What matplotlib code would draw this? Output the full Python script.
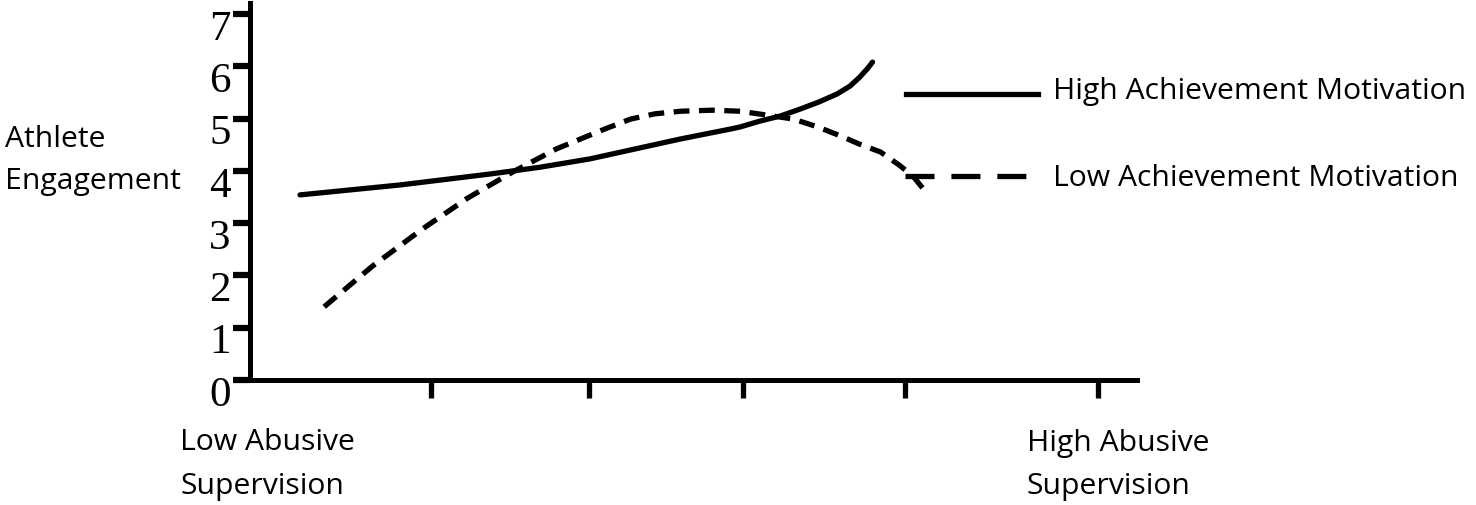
import numpy as np
import matplotlib
matplotlib.use('Agg')
import matplotlib.pyplot as plt
import matplotlib.transforms as mtrans
from matplotlib.lines import Line2D

# values (x: abusive supervision, y: engagement)
high_x = [0.31, 0.93, 1.49, 1.80, 2.11, 2.39, 2.67, 2.98, 3.04, 3.16, 3.29, 3.41, 3.53,
          3.64, 3.72, 3.78, 3.83, 3.86]
high_y = [3.54, 3.73, 3.94, 4.07, 4.23, 4.42, 4.61, 4.80, 4.84, 4.95, 5.05, 5.18, 5.32,
          5.47, 5.62, 5.79, 5.96, 6.08]

low_x = [0.46, 0.76, 1.07, 1.35, 1.63, 1.90, 2.05, 2.20, 2.36, 2.51, 2.67, 2.87, 3.04,
         3.24, 3.37, 3.52, 3.66, 3.78, 3.91, 4.03, 4.11, 4.20]
low_y = [1.40, 2.18, 2.89, 3.48, 3.98, 4.42, 4.61, 4.80, 4.99, 5.09, 5.14, 5.16, 5.14,
         5.05, 4.99, 4.84, 4.67, 4.51, 4.36, 4.10, 3.90, 3.56]

x_ticks = [1.12, 2.10, 3.06, 4.06, 5.26]
y_ticks = [0, 1, 2, 3, 4, 5, 6, 7]

W, H = 1476, 506
fig = plt.figure(figsize=(W / 100, H / 100), dpi=100)
ax = fig.add_axes([250 / W, (H - 381) / H, (1137 - 250) / W, (381 - 4) / H])

ax.plot(high_x, high_y, color='black', lw=3.8, solid_capstyle='round', solid_joinstyle='round')
ax.plot(low_x, low_y, color='black', lw=3.8, dashes=(3.0, 1.8), dash_capstyle='butt',
        dash_joinstyle='round')

ax.set_xlim(0, 5.5)
ax.set_ylim(0, 7.21)

for s in ['top', 'right']:
    ax.spines[s].set_visible(False)
for s in ['left', 'bottom']:
    ax.spines[s].set_linewidth(3.6)

ax.set_xticks(x_ticks)
ax.set_xticklabels([])
ax.tick_params(axis='x', direction='out', length=13, width=3.8)

ax.set_yticks(y_ticks)
ax.set_yticklabels([str(v) for v in y_ticks], fontfamily='Liberation Serif', fontsize=31)
ax.tick_params(axis='y', direction='out', length=12, width=4.5, pad=2)
shift = mtrans.ScaledTranslation(0, -10 / 100, fig.dpi_scale_trans)
for lab in ax.get_yticklabels():
    lab.set_transform(lab.get_transform() + shift)

font = 'Open Sans'
fs = 21.7
fig.text(5 / W, 1 - 140 / H, 'Athlete', fontfamily=font, fontsize=fs, va='center', ha='left')
fig.text(5 / W, 1 - 182 / H, 'Engagement', fontfamily=font, fontsize=fs, va='center', ha='left')
fig.text(180 / W, 1 - 443 / H, 'Low Abusive', fontfamily=font, fontsize=fs, va='center', ha='left')
fig.text(180 / W, 1 - 487 / H, 'Supervision', fontfamily=font, fontsize=fs, va='center', ha='left')
fig.text(1027 / W, 1 - 443 / H, 'High Abusive', fontfamily=font, fontsize=fs, va='center', ha='left')
fig.text(1027 / W, 1 - 487 / H, 'Supervision', fontfamily=font, fontsize=fs, va='center', ha='left')

# legend drawn by hand
fig.add_artist(Line2D([906 / W, 1038 / W], [1 - 95 / H, 1 - 95 / H], color='black', lw=3.8,
                      transform=fig.transFigure))
fig.add_artist(Line2D([905 / W, 1030 / W], [1 - 177 / H, 1 - 177 / H], color='black', lw=3.8,
                      dashes=(5.5, 3.2), transform=fig.transFigure))
fig.text(1053 / W, 1 - 92 / H, 'High Achievement Motivation', fontfamily=font, fontsize=fs,
         va='center', ha='left')
fig.text(1053 / W, 1 - 179 / H, 'Low Achievement Motivation', fontfamily=font, fontsize=fs,
         va='center', ha='left')

fig.savefig('out.png', dpi=100)
